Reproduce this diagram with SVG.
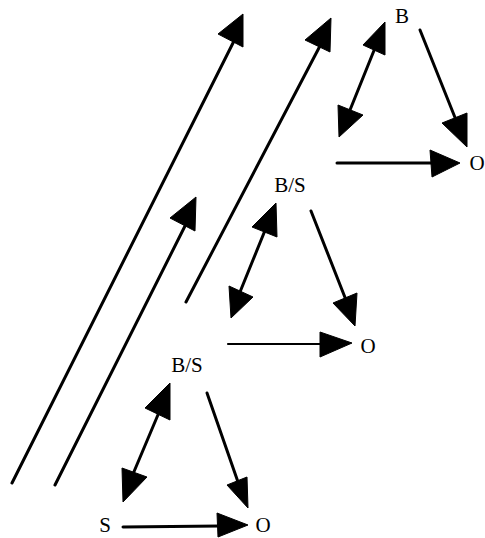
<svg xmlns="http://www.w3.org/2000/svg" width="485" height="538" viewBox="0 0 485 538">
<style>
.ln{stroke:#000;stroke-width:3;fill:none;stroke-linecap:round}
.thin{stroke-width:2.2}
.hd{fill:#000;stroke:#000;stroke-width:1;stroke-linejoin:round}
.lb{font-family:"Liberation Serif","Times New Roman",serif;font-size:21px;fill:#000;text-anchor:middle}
</style>
<rect width="485" height="538" fill="#fff"/>
<g id="connectors">
<line class="ln" x1="12" y1="483" x2="234" y2="41"/>
<polygon class="hd" points="243,14 218,34 243,47"/>
<line class="ln" x1="55" y1="485" x2="187" y2="222"/>
<polygon class="hd" points="196,197 170,218 195,231"/>
<line class="ln" x1="186" y1="302" x2="321" y2="44"/>
<polygon class="hd" points="331,18 305,40 330,52"/>
<line class="ln" x1="160" y1="410" x2="133" y2="474"/>
<polygon class="hd" points="170,383 145,408 170,420"/>
<polygon class="hd" points="123,502 122,468 147,477"/>
<line class="ln" x1="207" y1="393" x2="238" y2="482"/>
<polygon class="hd" points="248,508 227,485 247,477"/>
<line class="ln" x1="123" y1="527" x2="220" y2="526"/>
<polygon class="hd" points="248,525 217,513 218,537"/>
<line class="ln" x1="266" y1="228" x2="240" y2="292"/>
<polygon class="hd" points="276,203 252,227 277,237"/>
<polygon class="hd" points="231,318 229,286 253,297"/>
<line class="ln" x1="311" y1="211" x2="346" y2="300"/>
<polygon class="hd" points="355,326 333,303 357,293"/>
<line class="ln thin" x1="228" y1="344" x2="322" y2="344"/>
<polygon class="hd" points="352,343 320,332 320,357"/>
<line class="ln" x1="375" y1="48" x2="350" y2="110"/>
<polygon class="hd" points="385,22 363,45 385,55"/>
<polygon class="hd" points="339,137 338,105 363,115"/>
<line class="ln" x1="420" y1="30" x2="456" y2="120"/>
<polygon class="hd" points="467,147 442,123 467,113"/>
<line class="ln" x1="337" y1="163" x2="432" y2="163"/>
<polygon class="hd" points="460,163 430,150 432,177"/>
</g>
<g id="node-S"><text class="lb" x="105" y="532">S</text></g>
<g id="node-O1"><text class="lb" x="263" y="532">O</text></g>
<g id="node-BS1"><text class="lb" x="187" y="372">B/S</text></g>
<g id="node-BS2"><text class="lb" x="290" y="192">B/S</text></g>
<g id="node-O2"><text class="lb" x="368" y="353">O</text></g>
<g id="node-B"><text class="lb" x="402" y="23">B</text></g>
<g id="node-O3"><text class="lb" x="477" y="170">O</text></g>
</svg>
